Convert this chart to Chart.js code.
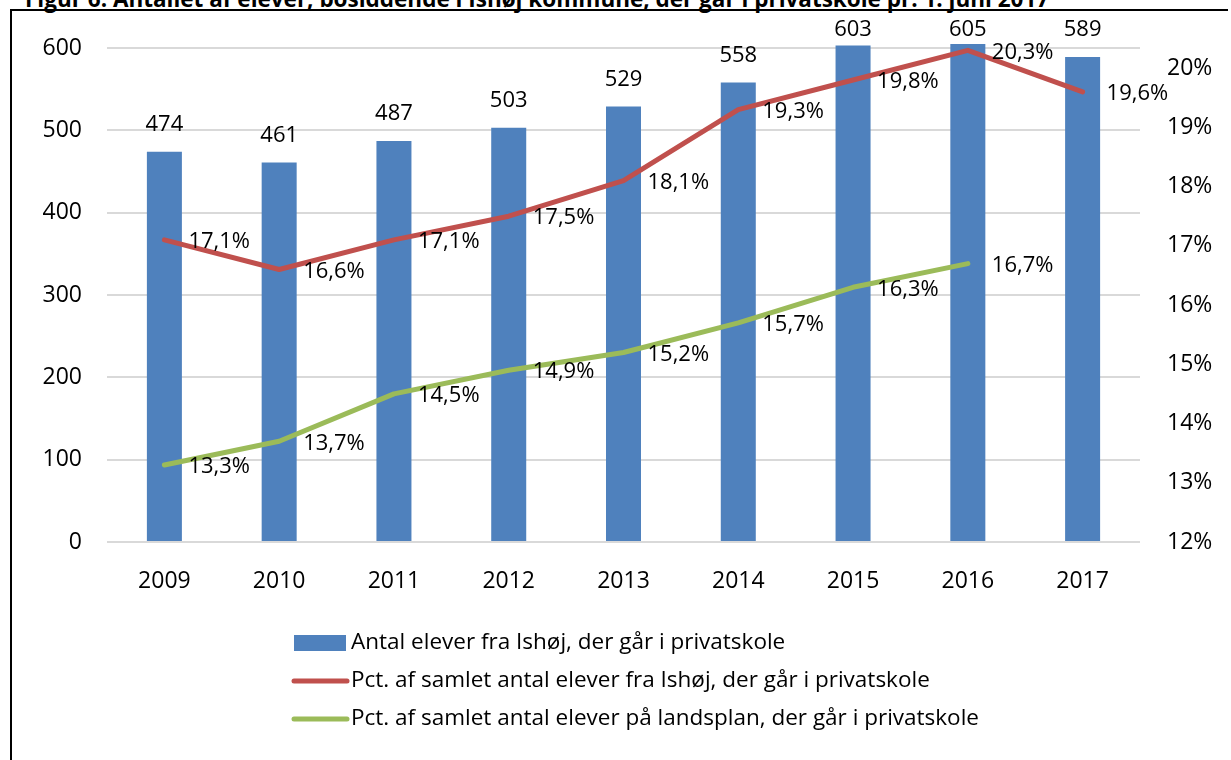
<!DOCTYPE html>
<html>
<head>
<meta charset="utf-8">
<script src="https://cdn.jsdelivr.net/npm/chart.js@4.4.0/dist/chart.umd.min.js"></script>
<style>
html, body { margin: 0; padding: 0; background: #fff; }
body { width: 1231px; height: 760px; position: relative; overflow: hidden; }
#title { position: absolute; left: 25px; top: -17px; font: bold 22.5px 'Open Sans'; white-space: nowrap; color: #000; }
#frame { position: absolute; left: 10px; top: 9px; width: 1216px; height: 760px; border-left: 2px solid #000; border-top: 2px solid #000; }
#wrap { position: absolute; left: 0; top: 0; width: 1231px; height: 760px; }
</style>
</head>
<body>
<div id="title">Figur 6: Antallet af elever, bosiddende i Ishøj kommune, der går i privatskole pr. 1. juni 2017</div>
<div id="frame"></div>
<div id="wrap"><canvas id="combiChart" width="1231" height="760"></canvas></div>
<script>
// data
const years = ['2009', '2010', '2011', '2012', '2013', '2014', '2015', '2016', '2017'];
const antalElever = [474, 461, 487, 503, 529, 558, 603, 605, 589];
const pctIshoj = [17.1, 16.6, 17.1, 17.5, 18.1, 19.3, 19.8, 20.3, 19.6];
const pctLandsplan = [13.3, 13.7, 14.5, 14.9, 15.2, 15.7, 16.3, 16.7, null];
const pctTicks = [12, 13, 14, 15, 16, 17, 18, 19, 20];

const labelBar = 'Antal elever fra Ishøj, der går i privatskole';
const labelIshoj = 'Pct. af samlet antal elever fra Ishøj, der går i privatskole';
const labelLand = 'Pct. af samlet antal elever på landsplan, der går i privatskole';

const blue = '#4f81bd';
const red = '#c0504d';
const green = '#9bbb59';

Chart.defaults.font.family = "'Open Sans'";
Chart.defaults.font.size = 23;
Chart.defaults.color = '#000';

function fmtPct(v) {
    return v.toFixed(1).replace('.', ',') + '%';
}

// labels on bars and points
const valueLabels = {
    id: 'valueLabels',
    afterDatasetsDraw(chart) {
        const ctx = chart.ctx;
        ctx.save();
        ctx.font = '22px "Open Sans"';
        ctx.fillStyle = '#000';
        ctx.textBaseline = 'middle';
        chart.data.datasets.forEach((ds, i) => {
            const meta = chart.getDatasetMeta(i);
            meta.data.forEach((el, j) => {
                const v = ds.data[j];
                if (v == null) return;
                if (ds.type === 'bar') {
                    ctx.textAlign = 'center';
                    const y = Math.max(el.y - 27, chart.chartArea.top - 18);
                    ctx.fillText(String(v), el.x, y);
                } else {
                    ctx.textAlign = 'left';
                    ctx.fillText(fmtPct(v), el.x + 24, el.y + 2);
                }
            });
        });
        ctx.restore();
    }
};

// legend in a column under the chart
const columnLegend = {
    id: 'columnLegend',
    afterDraw(chart) {
        const ctx = chart.ctx;
        const area = chart.chartArea;
        const x = area.left + 186;
        const rows = [area.bottom + 101, area.bottom + 139, area.bottom + 177];
        ctx.save();
        ctx.font = '22.5px "Open Sans"';
        ctx.textBaseline = 'middle';
        ctx.textAlign = 'left';
        chart.data.datasets.forEach((ds, i) => {
            const y = rows[i];
            if (ds.type === 'bar') {
                ctx.fillStyle = ds.backgroundColor;
                ctx.fillRect(x + 1, y - 8, 52, 16);
            } else {
                ctx.strokeStyle = ds.borderColor;
                ctx.lineWidth = 5;
                ctx.lineCap = 'round';
                ctx.beginPath();
                ctx.moveTo(x + 1, y);
                ctx.lineTo(x + 54, y);
                ctx.stroke();
            }
            ctx.fillStyle = '#000';
            ctx.fillText(ds.label, x + 58, y);
        });
        ctx.restore();
    }
};

const combiChart = document.querySelector('#combiChart');

new Chart(combiChart, {
    data: {
        labels: years,
        datasets: [
            {
                type: 'bar',
                label: labelBar,
                data: antalElever,
                backgroundColor: blue,
                yAxisID: 'y',
                categoryPercentage: 0.305,
                barPercentage: 1,
                clip: false,
                order: 3
            },
            {
                type: 'line',
                label: labelIshoj,
                data: pctIshoj,
                borderColor: red,
                backgroundColor: red,
                borderWidth: 5,
                pointRadius: 0,
                tension: 0,
                borderJoinStyle: 'round',
                borderCapStyle: 'round',
                yAxisID: 'y1',
                clip: false,
                order: 2
            },
            {
                type: 'line',
                label: labelLand,
                data: pctLandsplan,
                borderColor: green,
                backgroundColor: green,
                borderWidth: 5,
                pointRadius: 0,
                tension: 0,
                borderJoinStyle: 'round',
                borderCapStyle: 'round',
                yAxisID: 'y1',
                clip: false,
                order: 1
            }
        ]
    },
    options: {
        responsive: false,
        animation: false,
        layout: { padding: { top: 48 } },
        plugins: {
            legend: { display: false },
            tooltip: { enabled: false }
        },
        scales: {
            x: {
                grid: { display: false },
                border: { display: false },
                ticks: { padding: 18 },
                afterFit(scale) { scale.height = 218; }
            },
            y: {
                position: 'left',
                min: 0,
                max: 600,
                ticks: { stepSize: 100, padding: 25 },
                grid: { color: '#d9d9d9', lineWidth: 2, drawTicks: false },
                border: { display: false },
                afterFit(scale) { scale.width = 107; }
            },
            y1: {
                position: 'right',
                min: 12,
                max: 20.34,
                ticks: {
                    padding: 27,
                    callback: (v) => v + '%'
                },
                afterBuildTicks(axis) {
                    axis.ticks = pctTicks.map(v => ({ value: v }));
                },
                grid: { display: false, drawTicks: false },
                border: { display: false },
                afterFit(scale) { scale.width = 91; }
            }
        }
    },
    plugins: [valueLabels, columnLegend]
});
</script>
</body>
</html>
